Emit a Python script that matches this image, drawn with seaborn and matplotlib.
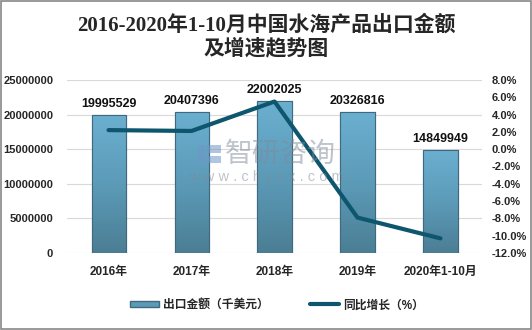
import numpy as np
import pandas as pd
import matplotlib
matplotlib.use("Agg")
import matplotlib.pyplot as plt
from matplotlib.lines import Line2D
from matplotlib.patches import Patch, Rectangle
from matplotlib.colors import LinearSegmentedColormap
import seaborn as sns

years = ["2016年", "2017年", "2018年", "2019年", "2020年1-10月"]
export_value = [19995529, 20407396, 22002025, 20326816, 14849949]
growth_pct = [2.2, 2.1, 5.5, -7.9, -10.3]

sns.set_theme(style="white")
plt.rcParams["font.family"] = ["Liberation Sans", "Noto Sans CJK SC", "DejaVu Sans"]

df = pd.DataFrame({"year": years, "value": export_value, "growth": growth_pct})

fig = plt.figure(figsize=(5.32, 3.30), dpi=100)
ax = fig.add_axes([0.126, 0.233, 0.780, 0.525])

sns.barplot(data=df, x="year", y="value", ax=ax, color="#5b9bb8", width=0.41,
            edgecolor="#3f6a7e", linewidth=0.8, zorder=2)

# vertical gradient fill on each bar
grad = np.linspace(0, 1, 256).reshape(-1, 1)
cmap = LinearSegmentedColormap.from_list("bar", ["#4b7e94", "#5c9bb8", "#6bafd0"])
for p in ax.patches:
    x0, y0 = p.get_x(), p.get_y()
    w, h = p.get_width(), p.get_height()
    im = ax.imshow(grad, extent=[x0, x0 + w, y0, y0 + h], origin="lower",
                   cmap=cmap, aspect="auto", zorder=2.1)
    im.set_clip_path(p)
    ax.add_patch(Rectangle((x0, y0), w, h, fill=False, edgecolor="#3f6a7e",
                           linewidth=0.8, zorder=2.2))

for i, v in enumerate(export_value):
    ax.text(i, v + 700000, f"{v}", ha="center", va="bottom", fontsize=9,
            fontweight="bold", color="#111111", zorder=5)

yt = np.arange(0, 25000001, 5000000)
ax.set_ylim(0, 25000000)
ax.set_xlim(-0.5, 4.5)
ax.set_yticks(yt)
ax.set_yticklabels([f"{int(t)}" for t in yt])
ax.yaxis.grid(True, color="#d9d9d9", linewidth=0.8, zorder=0)
ax.set_axisbelow(True)
ax.set_xlabel("")
ax.set_ylabel("")
for s in ax.spines.values():
    s.set_visible(False)
ax.tick_params(axis="y", length=0, labelsize=8, pad=10)
ax.tick_params(axis="x", length=0, labelsize=8.5, pad=9)
for lab in ax.get_yticklabels() + ax.get_xticklabels():
    lab.set_fontweight("bold")

ax2 = ax.twinx()
sns.lineplot(x=np.arange(len(years)), y=growth_pct, ax=ax2, color="#0d566e",
             linewidth=3, zorder=4)
rt = np.arange(-12, 8.1, 2)
ax2.set_ylim(-12, 8)
ax2.set_yticks(rt)
ax2.set_yticklabels([f"{t:.1f}%" for t in rt])
ax2.tick_params(axis="y", length=0, labelsize=8, pad=7)
for lab in ax2.get_yticklabels():
    lab.set_fontweight("bold")
for s in ax2.spines.values():
    s.set_visible(False)
ax2.grid(False)

# watermark
wm = "#7f8a99"
fig.text(0.528, 0.533, "智研咨询", fontsize=20, color=wm, alpha=0.5,
         ha="center", va="center", zorder=10, family="Noto Sans CJK SC")
fig.text(0.50, 0.464, "w w w . c h y x x . c o m", fontsize=10.5, color=wm,
         alpha=0.5, ha="center", va="center", zorder=10)
for (rx, ry, rw, rh) in [(0.372, 0.505, 0.014, 0.055), (0.388, 0.535, 0.028, 0.025),
                         (0.388, 0.505, 0.028, 0.022)]:
    fig.add_artist(Rectangle((rx, ry), rw, rh, transform=fig.transFigure,
                             facecolor="#7096c8", edgecolor="none", alpha=0.55,
                             zorder=10))

fig.suptitle("2016-2020年1-10月中国水海产品出口金额\n及增速趋势图", y=0.955,
             fontsize=15, fontweight="bold", linespacing=1.2,
             family=["Liberation Serif", "Noto Sans CJK SC"])

handles = [Patch(facecolor="#5b9bb8", edgecolor="#3f6a7e"),
           Line2D([0], [0], color="#0d566e", linewidth=3)]
fig.legend(handles, ["出口金额（千美元）", "同比增长（%）"], loc="center",
           bbox_to_anchor=(0.52, 0.075), ncol=2, frameon=False,
           prop={"weight": "bold", "size": 8.5}, handlelength=2.5, columnspacing=3.5,
           handleheight=0.5, handletextpad=0.3)

fig.add_artist(Rectangle((0.002, 0.003), 0.996, 0.994, transform=fig.transFigure,
                         fill=False, edgecolor="#888888", linewidth=1.2))

fig.savefig("out.png", dpi=100)
